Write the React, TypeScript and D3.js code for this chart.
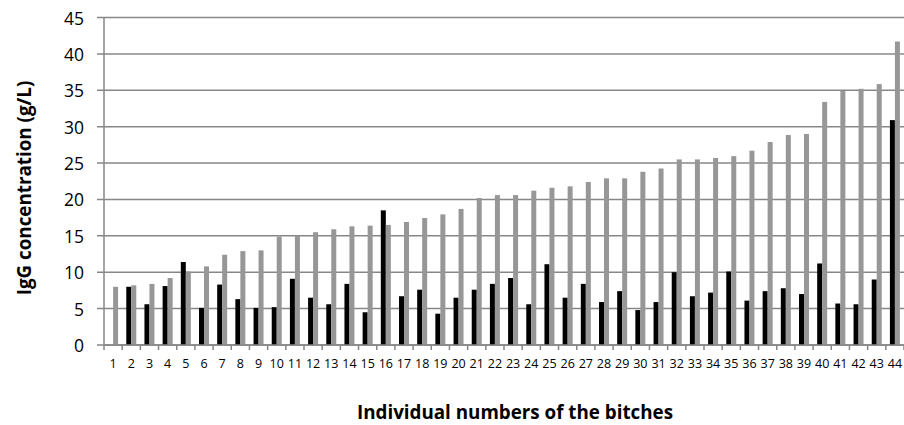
import React from "react";
import * as d3 from "d3";

const categories: string[] = Array.from({ length: 44 }, (_, i) => String(i + 1));
const blackValues: (number | null)[] = [
  null, 8.0, 5.6, 8.1, 11.4, 5.1, 8.3, 6.3, 5.1, 5.2,
  9.1, 6.5, 5.6, 8.4, 4.5, 18.5, 6.7, 7.6, 4.3, 6.5,
  7.6, 8.4, 9.2, 5.6, 11.1, 6.5, 8.4, 5.9, 7.4, 4.8,
  5.9, 10.0, 6.7, 7.2, 10.1, 6.1, 7.4, 7.8, 7.0, 11.2,
  5.7, 5.6, 9.0, 30.9,
];
const grayValues: number[] = [
  8.0, 8.2, 8.4, 9.2, 10.1, 10.8, 12.4, 12.9, 13.0, 14.9,
  15.0, 15.5, 15.9, 16.3, 16.4, 16.5, 16.9, 17.45, 17.95, 18.7,
  20.2, 20.6, 20.6, 21.2, 21.6, 21.8, 22.4, 22.9, 22.9, 23.8,
  24.25, 25.5, 25.5, 25.7, 25.95, 26.7, 27.9, 28.85, 29.0, 33.4,
  34.9, 35.2, 35.85, 41.7,
];
const yTicks: number[] = [0, 5, 10, 15, 20, 25, 30, 35, 40, 45];
const seriesKeys: string[] = ["black", "gray"];
const seriesColors: string[] = ["#000000", "#979797"];

const W = 904;
const H = 425;
const left = 104;
const right = 904;
const top = 17.5;
const bottom = 345;
const FONT = "'Open Sans', sans-serif";

export default function App() {
  const x = d3
    .scaleBand<string>()
    .domain(categories)
    .range([left, right])
    .paddingInner(0.45)
    .paddingOuter(0.225);
  const xs = d3.scaleBand<string>().domain(seriesKeys).range([0, x.bandwidth()]);
  const y = d3.scaleLinear().domain([0, 45]).range([bottom, top]);
  const step = x.step();
  const boundaries = d3.range(categories.length + 1).map((i) => left + i * step);

  return (
    <svg
      width={W}
      height={H}
      style={{ position: "absolute", left: 0, top: 0, background: "#fff" }}
    >
      {/* gridlines */}
      {yTicks.map((t) => (
        <line
          key={"g" + t}
          x1={left - 7}
          x2={right}
          y1={y(t)}
          y2={y(t)}
          stroke="#878787"
          strokeWidth={1.5}
        />
      ))}
      {/* y tick labels */}
      {yTicks.map((t) => (
        <text
          key={"yl" + t}
          x={84}
          y={y(t)}
          textAnchor="end"
          dominantBaseline="central"
          fontFamily={FONT}
          fontSize={17.5}
          fill="#000"
        >
          {t}
        </text>
      ))}
      {/* bars */}
      {categories.map((c, i) => {
        const bv = blackValues[i];
        const gv = grayValues[i];
        const x0 = x(c) as number;
        return (
          <g key={"b" + c}>
            {bv !== null && (
              <rect
                x={x0 + (xs("black") as number)}
                y={y(bv)}
                width={xs.bandwidth()}
                height={y(0) - y(bv)}
                fill={seriesColors[0]}
              />
            )}
            <rect
              x={x0 + (xs("gray") as number)}
              y={y(gv)}
              width={xs.bandwidth()}
              height={y(0) - y(gv)}
              fill={seriesColors[1]}
            />
          </g>
        );
      })}
      {/* axes */}
      <line x1={left} x2={left} y1={top} y2={bottom} stroke="#878787" strokeWidth={1.5} />
      <line x1={left} x2={right} y1={bottom} y2={bottom} stroke="#878787" strokeWidth={1.5} />
      {boundaries.map((bx, i) => (
        <line
          key={"t" + i}
          x1={bx}
          x2={bx}
          y1={bottom}
          y2={bottom + 5}
          stroke="#878787"
          strokeWidth={1.5}
        />
      ))}
      {/* x tick labels */}
      {categories.map((c) => (
        <text
          key={"xl" + c}
          x={(x(c) as number) + x.bandwidth() / 2}
          y={363}
          textAnchor="middle"
          dominantBaseline="central"
          fontFamily={FONT}
          fontSize={12.5}
          fill="#000"
        >
          {c}
        </text>
      ))}
      {/* axis titles */}
      <text
        x={515}
        y={419}
        textAnchor="middle"
        fontFamily={FONT}
        fontWeight="bold"
        fontSize={18.8}
        fill="#000"
      >
        Individual numbers of the bitches
      </text>
      <text
        transform={`translate(31,188) rotate(-90)`}
        textAnchor="middle"
        fontFamily={FONT}
        fontWeight="bold"
        fontSize={18.8}
        fill="#000"
      >
        IgG concentration (g/L)
      </text>
    </svg>
  );
}
